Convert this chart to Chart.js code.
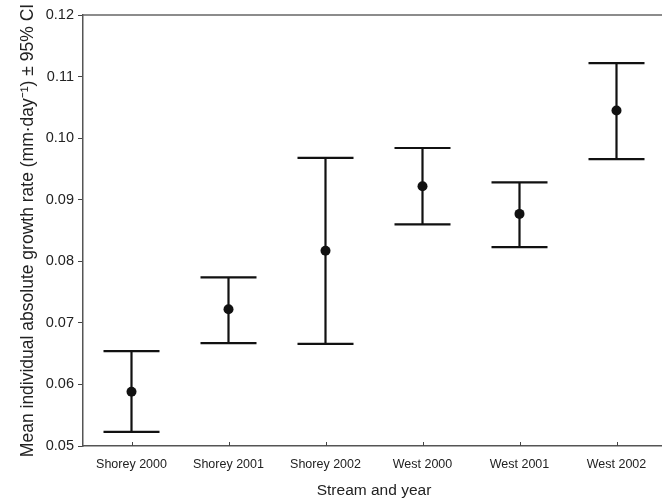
<!DOCTYPE html>
<html lang="en">

<head>
    <meta charset="UTF-8">
    <title>Growth rate by stream and year</title>
    <style>
        body {
            margin: 0;
            padding: 0;
            background: #ffffff;
            overflow: hidden;
        }

        .chart-box {
            width: 670px;
            height: 500px;
        }
    </style>
</head>

<body>
    <div class="chart-box">
        <canvas id="growthChart"></canvas>
    </div>

    <script src="https://cdn.jsdelivr.net/npm/chart.js"></script>
    <script>
        // Data
        const categories = ["Shorey 2000", "Shorey 2001", "Shorey 2002", "West 2000", "West 2001", "West 2002"];
        const means = [0.0588, 0.0722, 0.0817, 0.0922, 0.0877, 0.1045];
        const ciUpper = [0.0654, 0.0774, 0.0968, 0.0984, 0.0928, 0.1122];
        const ciLower = [0.0523, 0.0667, 0.0666, 0.0860, 0.0823, 0.0966];
        const yTicks = [0.05, 0.06, 0.07, 0.08, 0.09, 0.10, 0.11, 0.12];

        const font = "'Liberation Sans', Arial, Helvetica, sans-serif";

        // Error bars, top frame line and inward x ticks
        const errorBars = {
            id: "errorBars",
            beforeDatasetsDraw(chart) {
                const c = chart.ctx;
                const x = chart.scales.x;
                const y = chart.scales.y;
                const capHalf = 28;
                c.save();
                c.strokeStyle = "#111";
                c.lineWidth = 2.2;
                means.forEach((m, i) => {
                    const px = x.getPixelForValue(i);
                    const top = y.getPixelForValue(ciUpper[i]);
                    const bot = y.getPixelForValue(ciLower[i]);
                    c.beginPath();
                    c.moveTo(px, top);
                    c.lineTo(px, bot);
                    c.moveTo(px - capHalf, top);
                    c.lineTo(px + capHalf, top);
                    c.moveTo(px - capHalf, bot);
                    c.lineTo(px + capHalf, bot);
                    c.stroke();
                });
                c.restore();
            },
            afterDraw(chart) {
                const c = chart.ctx;
                const area = chart.chartArea;
                const x = chart.scales.x;
                c.save();
                c.strokeStyle = "#666";
                c.lineWidth = 1.5;
                c.beginPath();
                c.moveTo(area.left, area.top);
                c.lineTo(area.right, area.top);
                c.stroke();
                c.strokeStyle = "#444";
                c.lineWidth = 1;
                categories.forEach((_, i) => {
                    const px = Math.round(x.getPixelForValue(i)) + 0.5;
                    c.beginPath();
                    c.moveTo(px, area.bottom);
                    c.lineTo(px, area.bottom - 4);
                    c.stroke();
                });
                c.restore();
            }
        };

        const ctx = document.getElementById("growthChart").getContext("2d");

        new Chart(ctx, {
            type: "line",
            data: {
                labels: categories,
                datasets: [{
                    data: means,
                    showLine: false,
                    pointRadius: 5,
                    pointHoverRadius: 5,
                    pointBackgroundColor: "#111",
                    pointBorderColor: "#111",
                    pointBorderWidth: 0,
                }],
            },
            options: {
                responsive: true,
                maintainAspectRatio: false,
                animation: false,
                layout: {
                    padding: { top: 15, right: 3, bottom: 0, left: 0 }
                },
                plugins: {
                    legend: { display: false },
                    tooltip: { enabled: false },
                },
                scales: {
                    x: {
                        type: "category",
                        offset: true,
                        grid: { display: false, drawTicks: false },
                        border: { display: true, color: "#555", width: 1.5 },
                        ticks: {
                            color: "#222",
                            padding: 11,
                            maxRotation: 0,
                            autoSkip: false,
                            font: { family: font, size: 12.5 },
                        },
                        title: {
                            display: true,
                            text: "Stream and year",
                            color: "#222",
                            padding: { top: 4, bottom: 0 },
                            font: { family: font, size: 15.5 },
                        },
                        afterFit(scale) {
                            scale.height = 54;
                        },
                    },
                    y: {
                        min: 0.05,
                        max: 0.12,
                        afterBuildTicks(scale) {
                            scale.ticks = yTicks.map(v => ({ value: v }));
                        },
                        grid: {
                            drawOnChartArea: false,
                            drawTicks: true,
                            tickLength: 5,
                            color: "#444",
                        },
                        border: { display: true, color: "#555", width: 1.5 },
                        ticks: {
                            color: "#222",
                            padding: 4,
                            font: { family: font, size: 14.5 },
                            callback: (v) => Number(v).toFixed(2),
                        },
                        title: {
                            display: true,
                            text: "Mean individual absolute growth rate (mm\u00b7day\u207b\u00b9) \u00b1 95% CI",
                            color: "#222",
                            padding: { top: 18, bottom: 0 },
                            font: { family: font, size: 17.5 },
                        },
                        afterFit(scale) {
                            scale.width = 83;
                        },
                    },
                },
            },
            plugins: [errorBars],
        });
    </script>
</body>

</html>
